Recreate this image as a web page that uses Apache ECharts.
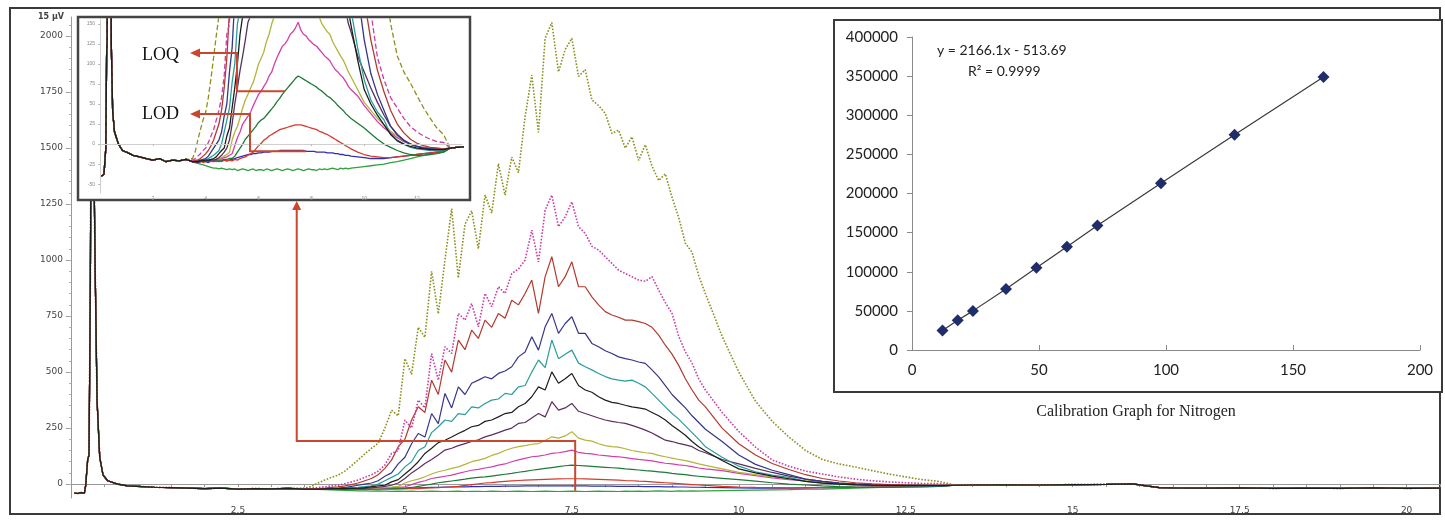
<!DOCTYPE html>
<html>
<head>
<meta charset="utf-8">
<script src="https://cdn.jsdelivr.net/npm/echarts@6/dist/echarts.min.js"></script>
<style>
  html, body { margin: 0; padding: 0; background: #fff; }
  #chart { width: 1445px; height: 520px; }
</style>
</head>
<body>
<div id="chart"></div>
<script>
// Retention time (min) of the solvent front, shared by every injection
const headTimes = [0.05,0.1,0.15,0.2,0.22,0.25,0.27,0.29,0.31,0.33,0.36,0.39,0.43,0.48,0.55,0.7,0.85,1.0,1.25,1.5,1.75,2.0,2.25,2.5,2.75,3.0,3.25];
const headSignal = [-40,-42,-38,-40,-5,110,130,900,2400,1800,1000,375,120,40,15,0,-8,-10,-14,-16,-18,-20,-18,-22,-20,-21,-19];

// Retention time (min) across the nitrogen band
const peakTimes = [3.5,3.6,3.7,3.8,3.9,4.0,4.1,4.2,4.3,4.4,4.5,4.6,4.7,4.8,4.9,5.0,5.1,5.2,5.3,5.4,5.5,5.6,5.7,5.8,5.9,6.0,6.1,6.2,6.3,6.4,6.5,6.6,6.7,6.8,6.9,7.0,7.1,7.2,7.3,7.4,7.5,7.6,7.7,7.8,7.9,8.0,8.1,8.2,8.3,8.4,8.5,8.6,8.7,8.8,8.9,9.0,9.1,9.2,9.3,9.4,9.5,9.75,10.0,10.25,10.5,10.75,11.0,11.25,11.5,11.75,12.0,12.25,12.5,12.75,13.0];

// Detector signal (µV) of each standard over peakTimes
const stdOlive = [-18,-10,5,18,30,40,58,82,108,135, 160,182,250,330,305,560,490,700,655,950, 760,1000,1230,920,1160,1220,1050,1290,1210,1430, 1290,1460,1390,1640,1826,1570,1990,2060,1840,1940, 1990,1820,1850,1715,1690,1655,1565,1580,1500,1550, 1445,1515,1420,1355,1385,1280,1190,1075,1035,930, 850, 660,500,370,280,210,150,110,90,76,60,45,32,20,12];
const stdMagenta = [-20,-18,-15,-12,-8,-5,2,10,18,30, 42,58,85,137,150,286,250,375,340,583, 464,613,583,762,732,806,702,851,792,881, 851,940,960,1000,1134,992,1223,1290,1149,1193, 1260,1149,1119,1061,1045,1015,985,955,940,926, 911,905,926,866,810,762,660,590,540,470, 420, 320,235,165,108,80,58,45,32,22,15,10,6,3,2];
const stdBrown = [-22,-20,-20,-18,-15,-12,-8,-2,5,15, 25,42,70,107,167,200,286,345,320,464, 400,554,500,643,600,687,650,732,700,762, 740,821,800,851,911,762,926,1015,881,926, 992,881,881,836,800,770,755,745,732,732, 725,717,700,665,620,580,530,470,420,375, 345, 250,180,130,92,65,42,25,14,6,1,-2,-4,-5,-6];
const stdNavy = [-22,-21,-21,-20,-19,-18,-15,-10,-5,0, 5,15,35,50,90,120,180,226,210,315, 270,405,340,434,400,450,464,479,470,494, 505,524,568,590,658,598,702,762,673,717, 747,673,673,628,613,595,583,568,560,554, 545,539,510,479,440,400,370,340,305,275, 245, 190,130,88,62,42,22,12,5,0,-3,-5,-6,-6,-7];
const stdTeal = [-22,-22,-21,-21,-20,-20,-18,-16,-14,-11, -8,0,15,30,45,77,100,150,167,230, 256,286,280,315,310,345,340,360,375,380, 405,400,434,440,500,554,520,643,560,580, 598,540,524,510,494,480,470,464,460,464, 450,434,405,375,345,315,290,260,230,200, 167, 120,80,55,40,30,12,5,0,-4,-6,-7,-8,-8,-8];
const stdBlack = [-22,-22,-22,-21,-21,-20,-20,-19,-18,-16, -12,-8,-5,10,20,45,70,100,137,160, 185,196,210,226,240,256,262,280,286,300, 315,320,345,360,390,434,420,501,450,470, 494,440,420,410,390,375,365,360,352,345, 340,335,320,305,286,262,240,218,190,167, 148, 105,68,50,36,24,12,4,0,-3,-5,-6,-7,-7,-7];
const stdPurple = [-22,-22,-22,-22,-21,-21,-21,-20,-20,-19, -17,-14,-10,-5,5,25,50,70,92,110, 130,152,160,172,181,190,198,211,220,230, 241,250,271,275,295,315,300,368,330,340, 360,325,315,305,295,286,280,275,271,262, 252,241,228,212,196,190,182,175,167,150, 140, 110,90,70,52,36,22,12,4,0,-3,-5,-6,-6,-7];
const stdYellow = [-22,-22,-21,-21,-21,-20,-20,-20,-19,-19, -18,-17,-15,-13,-10,5,15,22,33,45, 55,62,70,77,88,100,107,115,128,137, 150,160,167,172,178,181,195,211,205,215, 234,205,196,192,180,172,167,165,158,150, 145,140,137,128,122,116,110,105,98,90, 84, 68,52,42,32,24,16,10,4,0,-3,-5,-6,-6,-6];
const stdPink = [-22,-22,-22,-21,-21,-21,-20,-20,-20,-19, -19,-18,-17,-16,-14,-12,-2,8,15,25, 30,35,40,48,55,62,66,72,77,85, 90,100,108,115,122,125,130,137,140,145, 152,142,137,135,130,127,124,122,118,114, 110,107,104,98,93,90,86,83,78,72, 68, 60,48,38,28,20,14,8,3,0,-3,-4,-5,-5,-6];
const stdLoq = [-22,-22,-22,-22,-21,-21,-21,-21,-20,-20, -20,-20,-19,-19,-18,-18,-15,-10,-5,0, 6,10,14,18,22,27,30,32,36,40, 44,48,53,57,62,66,70,74,78,82, 85,83,81,79,77,75,73,71,68,66, 63,60,58,55,52,48,45,42,38,35, 32, 26,20,13,6,0,-4,-8,-11,-13,-14,-14,-13,-12,-10];
const stdRed = [-22,-23,-22,-21,-23,-22,-21,-22,-21,-22, -21,-22,-20,-21,-20,-21,-19,-20,-18,-17, -16,-14,-12,-10,-6,-2,1,5,7,10, 12,14,16,18,19,20,21,22,23,24, 24,24,23,22,21,20,19,18,16,15, 13,12,10,8,6,4,2,0,-2,-4, -6, -10,-13,-15,-16,-17,-17,-16,-15,-14,-13,-12,-11,-10,-9];
const stdLod = [-22,-21,-23,-22,-21,-22,-23,-21,-22,-21, -22,-21,-20,-21,-20,-19,-18,-17,-16,-15, -14,-13,-13,-12,-12,-11,-11,-10,-10,-10, -9,-9,-9,-8,-8,-8,-8,-8,-8,-8, -8,-8,-8,-9,-9,-9,-9,-10,-10,-10, -10,-11,-11,-11,-12,-12,-13,-13,-14,-14, -15, -16,-17,-18,-18,-18,-17,-16,-15,-14,-13,-12,-11,-10,-9];
const blankRun = [-22,-23,-24,-25,-26,-27,-28,-29,-30,-30, -31,-30,-31,-32,-31,-32,-31,-33,-32,-31, -32,-33,-32,-31,-33,-32,-32,-33,-31,-32, -33,-32,-31,-32,-33,-32,-31,-32,-33,-32, -31,-32,-33,-32,-31,-32,-32,-33,-31,-32, -31,-32,-31,-30,-31,-32,-30,-31,-30,-31, -30, -29,-28,-27,-26,-25,-23,-22,-20,-18,-16,-14,-12,-11,-10];

// Late baseline, shared by every injection
const tailTimes = [13.25,13.5,14,14.5,15,15.5,15.9,16.1,16.3,16.5,17,17.5,18,18.5,19,19.5,20,20.5];
const tailSignal = [-5,-4,-3,-4,-2,-1,1,-8,-16,-17,-18,-17,-19,-18,-19,-17,-19,-18];

// Axis tick labels
const yTickValues = [0,250,500,750,1000,1250,1500,1750,2000];
const xTickValues = [2.5,5,7.5,10,12.5,15,17.5,20];
const insetXTicks = [2,4,6,8,10,12];
const insetYTicks = [-50,-25,0,25,50,75,100,125,150];

// Calibration: nitrogen amount vs. peak area
const calAmount = [12,18,24,37,49,61,73,98,127,162];
const calArea = [25000,38000,50000,78000,105000,132000,159000,213000,275000,349000];

const traces = [
  { values: blankRun,   color: '#2fa23e', type: 'solid' },
  { values: stdLod,     color: '#2e2fb5', type: 'solid' },
  { values: stdRed,     color: '#d9382a', type: 'solid' },
  { values: stdLoq,     color: '#1d7a36', type: 'solid' },
  { values: stdPink,    color: '#d13fae', type: 'solid' },
  { values: stdYellow,  color: '#b3b43a', type: 'solid' },
  { values: stdPurple,  color: '#5a2f5e', type: 'solid' },
  { values: stdTeal,    color: '#2b9c9c', type: 'solid' },
  { values: stdNavy,    color: '#35358a', type: 'solid' },
  { values: stdBrown,   color: '#b23a2e', type: 'solid' },
  { values: stdMagenta, color: '#c93fa6', type: 'dotted' },
  { values: stdOlive,   color: '#8f8f1f', type: 'dotted' },
  { values: stdBlack,   color: '#1b1f1b', type: 'solid' }
];

function buildTrace(peak) {
  const pts = [];
  headTimes.forEach((t, i) => pts.push([t, headSignal[i]]));
  peakTimes.forEach((t, i) => pts.push([t, peak[i]]));
  tailTimes.forEach((t, i) => pts.push([t, tailSignal[i]]));
  return pts;
}

function rangeStep(a, b, s) { const r = []; for (let v = a; v <= b + 1e-9; v += s) r.push(+v.toFixed(2)); return r; }
const plain = v => String(v);

const chart = echarts.init(document.getElementById('chart'), null, { renderer: 'canvas' });

const mainLines = traces.map(tr => ({
  type: 'line', xAxisIndex: 0, yAxisIndex: 0, data: buildTrace(tr.values),
  showSymbol: false, silent: true, z: 2,
  lineStyle: { color: tr.color, width: tr.type === 'dotted' ? 1.6 : 1.2, type: tr.type }
}));
const insetLines = traces.map(tr => ({
  type: 'line', xAxisIndex: 1, yAxisIndex: 2, data: buildTrace(tr.values),
  showSymbol: false, silent: true, z: 11,
  lineStyle: { color: tr.color, width: 1.3, type: tr.type === 'dotted' ? 'dashed' : 'solid' }
}));

const smallFont = { fontFamily: 'DejaVu Sans', fontSize: 9, color: '#444', formatter: plain };

chart.setOption({
  backgroundColor: '#ffffff',
  animation: false,
  grid: [
    { left: 71, top: 17, width: 1369, height: 481 },
    { left: 100, top: 19, width: 362, height: 174 },
    { left: 912, top: 37, width: 508, height: 313 }
  ],
  xAxis: [
    { gridIndex: 0, type: 'value', min: 0, max: 20.5,
      axisLine: { lineStyle: { color: '#9a9a9a', width: 1 } },
      axisTick: { customValues: rangeStep(0.5, 20.5, 0.5), length: 3, lineStyle: { color: '#9a9a9a' } },
      axisLabel: Object.assign({ customValues: xTickValues, margin: 8 }, smallFont),
      splitLine: { show: false } },
    { gridIndex: 1, type: 'value', min: 0, max: 13.7, z: 12,
      axisLine: { lineStyle: { color: '#cfcfcf' } },
      axisTick: { customValues: insetXTicks, length: 2, lineStyle: { color: '#bbb' } },
      axisLabel: { customValues: insetXTicks, fontSize: 5, color: '#888', margin: 3 },
      splitLine: { show: false } },
    { gridIndex: 2, type: 'value', min: 0, max: 200, interval: 50, z: 12,
      axisLine: { lineStyle: { color: '#8a8a8a', width: 1 } },
      axisTick: { inside: true, length: 5, lineStyle: { color: '#8a8a8a' } },
      axisLabel: { fontFamily: 'Lato', fontSize: 15, color: '#222', margin: 13, formatter: plain },
      splitLine: { show: false } }
  ],
  yAxis: [
    { gridIndex: 0, type: 'value', min: -62, max: 2085, position: 'left',
      axisLine: { show: true, lineStyle: { color: '#9a9a9a', width: 1 } },
      axisTick: { customValues: yTickValues, length: 5, lineStyle: { color: '#9a9a9a' } },
      axisLabel: Object.assign({ customValues: yTickValues, margin: 8 }, smallFont),
      splitLine: { show: false } },
    { gridIndex: 0, type: 'value', min: -62, max: 2085, position: 'left',
      axisLine: { show: false },
      axisTick: { customValues: rangeStep(0, 2050, 50), length: 2, lineStyle: { color: '#b0b0b0' } },
      axisLabel: { show: false },
      splitLine: { show: false } },
    { gridIndex: 1, type: 'value', min: -61, max: 156, z: 12,
      axisLine: { show: true, lineStyle: { color: '#cfcfcf' } },
      axisTick: { customValues: insetYTicks, length: 2, lineStyle: { color: '#bbb' } },
      axisLabel: { customValues: insetYTicks, fontSize: 5, color: '#888', margin: 5 },
      splitLine: { show: false } },
    { gridIndex: 2, type: 'value', min: 0, max: 400000, interval: 50000, z: 12,
      axisLine: { show: true, lineStyle: { color: '#8a8a8a', width: 1 } },
      axisTick: { show: true, length: 5, lineStyle: { color: '#8a8a8a' } },
      axisLabel: { fontFamily: 'Lato', fontSize: 15, color: '#222', margin: 14, formatter: plain },
      splitLine: { show: false } }
  ],
  series: mainLines.concat(insetLines, [{
    type: 'line', xAxisIndex: 2, yAxisIndex: 3, z: 11, silent: true,
    data: calAmount.map((x, i) => [x, calArea[i]]),
    symbol: 'diamond', symbolSize: 12,
    itemStyle: { color: '#1f2d6b' },
    lineStyle: { color: '#3a3a3a', width: 1.2 }
  }])
});

// Annotations placed from the axes once the layout exists
const px = (g, pt) => chart.convertToPixel({ gridIndex: g }, pt);
const red = '#c8472d';
const boxL = px(0, [3.38, 192]);
const boxR = px(0, [7.55, 192]);
const boxB = px(0, [7.55, -30]);
const loqIdx = peakTimes.indexOf(7.0);
const lodIdx = peakTimes.indexOf(7.8);
const loqEnd = px(1, [7.0, stdLoq[loqIdx]]);
const lodEnd = px(1, [7.8, stdLod[lodIdx]]);

function leftArrow(x, y) {
  return { type: 'polygon', z: 21, shape: { points: [[x - 2, y], [x + 8, y - 4.5], [x + 8, y + 4.5]] }, style: { fill: red } };
}
function text(str, x, y, font, align, color) {
  return { type: 'text', z: 21, style: { text: str, x: x, y: y, font: font, fill: color || '#111',
    textAlign: align || 'left', textVerticalAlign: 'middle', align: align || 'left', verticalAlign: 'middle' } };
}

chart.setOption({
  graphic: { elements: [
    // outer frame
    { type: 'rect', z: 0, shape: { x: 10, y: 8, width: 1430, height: 506 }, style: { fill: 'none', stroke: '#3a3a3a', lineWidth: 2 } },
    // zoomed inset panel
    { type: 'rect', z: 10, shape: { x: 78, y: 17, width: 392, height: 183 }, style: { fill: '#fff', stroke: '#444', lineWidth: 2.5 } },
    // calibration panel
    { type: 'rect', z: 10, shape: { x: 834, y: 20, width: 608, height: 372 }, style: { fill: '#fff', stroke: '#3a3a3a', lineWidth: 2 } },
    text('15 µV', 38, 17, 'bold 8px "DejaVu Sans"', 'left', '#444'),
    // connector from the low-level region to the inset
    { type: 'polyline', z: 20, shape: { points: [[boxL[0], 206], [boxL[0], boxL[1]], [boxR[0], boxR[1]], [boxB[0], boxB[1]]] }, style: { stroke: red, lineWidth: 2, fill: null } },
    { type: 'polygon', z: 21, shape: { points: [[boxL[0], 201], [boxL[0] - 4.5, 210], [boxL[0] + 4.5, 210]] }, style: { fill: red } },
    // LOQ / LOD call-outs
    { type: 'polyline', z: 20, shape: { points: [[196, 53], [237, 53], [237, loqEnd[1]], [loqEnd[0], loqEnd[1]]] }, style: { stroke: red, lineWidth: 2, fill: null } },
    leftArrow(192, 53),
    { type: 'polyline', z: 20, shape: { points: [[196, 114], [250, 114], [250, lodEnd[1]], [lodEnd[0], lodEnd[1]]] }, style: { stroke: red, lineWidth: 2, fill: null } },
    leftArrow(192, 114),
    text('LOQ', 142, 55, '18px "Liberation Serif"'),
    text('LOD', 142, 114, '18px "Liberation Serif"'),
    // calibration texts
    text('y = 2166.1x - 513.69', 937, 50, '14px Lato', 'left', '#222'),
    text('R² = 0.9999', 968, 71, '14px Lato', 'left', '#222'),
    text('Calibration Graph for Nitrogen', 1136, 412, '16px "Liberation Serif"', 'center', '#222')
  ] }
});
</script>
</body>
</html>
